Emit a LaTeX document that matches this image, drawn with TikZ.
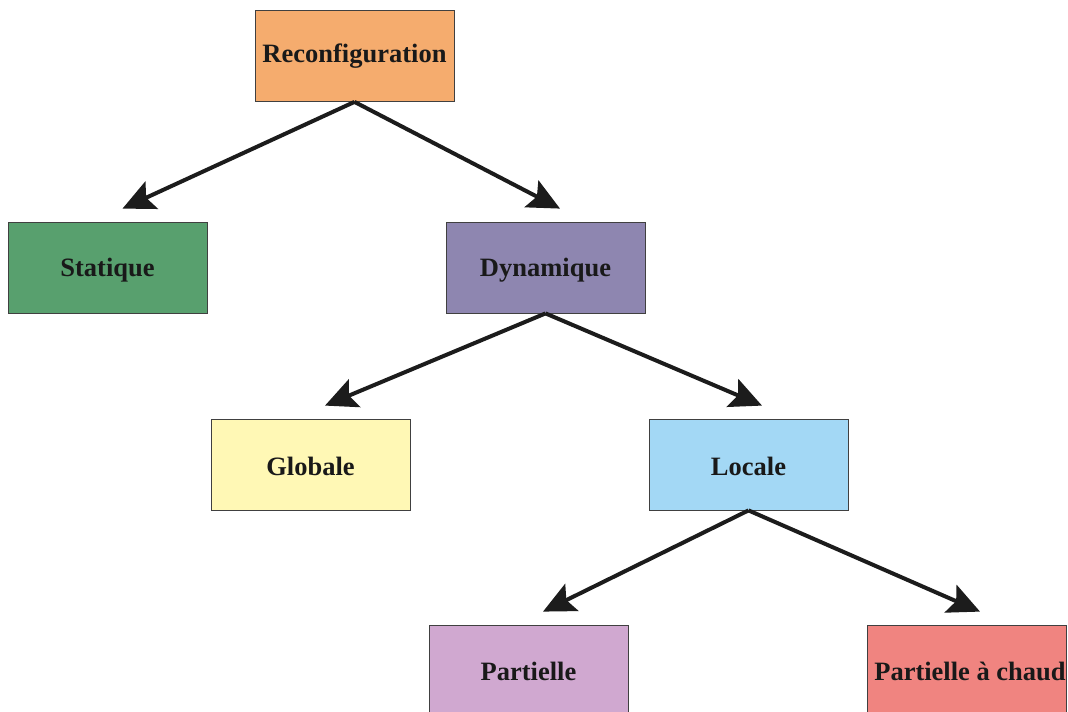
\documentclass[tikz,border=0pt]{standalone}
\usepackage{fontspec}
\setmainfont{Liberation Serif}
\usetikzlibrary{arrows.meta}
\definecolor{cReconf}{RGB}{245,172,110}
\definecolor{cStat}{RGB}{88,160,110}
\definecolor{cDyn}{RGB}{142,134,176}
\definecolor{cGlob}{RGB}{255,248,181}
\definecolor{cLoc}{RGB}{163,216,245}
\definecolor{cPart}{RGB}{208,168,208}
\definecolor{cChaud}{RGB}{240,132,128}
\definecolor{cLine}{RGB}{28,28,28}
\tikzset{
  box/.style={draw=black!75, line width=0.8pt, minimum width=199pt, minimum height=91pt,
    inner sep=0pt, font=\fontsize{26.5}{30}\selectfont\bfseries, text=black!90},
  low/.style={text height=#1, text depth=0pt},
  link/.style={draw=cLine, line width=4pt, -{Stealth[length=32pt,width=30pt,inset=6pt]}}
}
\begin{document}
\begin{tikzpicture}[x=1pt,y=-1pt]
\path[use as bounding box, fill=white] (0,0) rectangle (1068,712);
\node[box, fill=cReconf] (rec) at (354.5,56) {Reconfiguration};
\node[box, low=17pt, fill=cStat] (sta) at (107.5,267.5) {Statique};
\node[box, low=17pt, fill=cDyn] (dyn) at (545.5,267.5) {Dynamique};
\node[box, low=21pt, fill=cGlob] (glo) at (310.5,464.5) {Globale};
\node[box, low=21pt, fill=cLoc] (loc) at (748.5,464.5) {Locale};
\node[box, low=19.5pt, fill=cPart] (par) at (528.5,670.5) {Partielle};
\node[box, low=19.5pt, fill=cChaud] (cha) at (966.5,670.5) {\hspace*{7pt}Partielle à chaud};
\coordinate (tsta) at ([xshift=15pt,yshift=13pt]sta.north);
\coordinate (tdyn) at ([xshift=14.5pt,yshift=13pt]dyn.north);
\coordinate (tglo) at ([xshift=14.5pt,yshift=13pt]glo.north);
\coordinate (tloc) at ([xshift=13.5pt,yshift=13pt]loc.north);
\coordinate (tpar) at ([xshift=14.5pt,yshift=13pt]par.north);
\coordinate (tcha) at ([xshift=13.5pt,yshift=13pt]cha.north);
\draw[link] (rec.south) -- (tsta);
\draw[link] (rec.south) -- (tdyn);
\draw[link] (dyn.south) -- (tglo);
\draw[link] (dyn.south) -- (tloc);
\draw[link] (loc.south) -- (tpar);
\draw[link] (loc.south) -- (tcha);
\end{tikzpicture}
\end{document}
